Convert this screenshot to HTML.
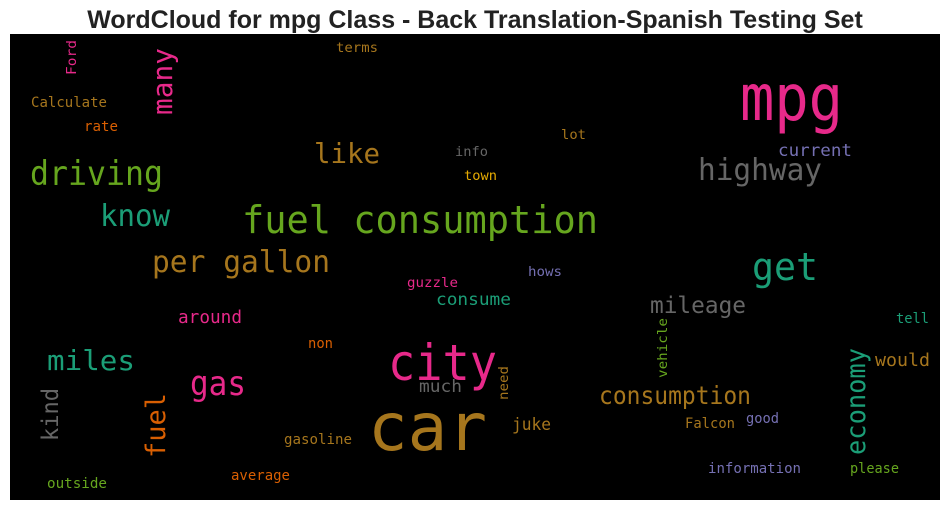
<!DOCTYPE html>
<html><head><meta charset="utf-8"><style>
html,body{margin:0;padding:0;background:#fff;}
svg{display:block;}
</style></head><body>
<svg width="950" height="511" viewBox="0 0 950 511" xmlns="http://www.w3.org/2000/svg">
<text x="475" y="28" text-anchor="middle" font-family="Liberation Sans, sans-serif" font-weight="bold" font-size="25" fill="#222">WordCloud for mpg Class - Back Translation-Spanish Testing Set</text>
<rect x="10" y="34" width="930" height="466" fill="#000"/>
<g id="words" font-family="DejaVu Sans Mono, Liberation Mono, monospace"></g>
<script>
const words = ["mpg","fuel consumption","city","car","highway","get","driving","know","like","per gallon","many","Ford","terms","Calculate","rate","info","lot","town","current","hows","guzzle","consume","mileage","around","tell","non","vehicle","miles","would","economy","need","much","gas","consumption","kind","fuel","juke","Falcon","good","gasoline","information","please","average","outside"];
const sizes = [64,38,50,66,30,38,34,30,28,30,28,13,13,14,14,13,13,13,17,13,13,17,23,18,14,14,13,28,18,27,13,17,34,25,23,27,17,14,14,14,14,14,14,14];
const colors = ["#e7298a","#66a61e","#e7298a","#a6761d","#666666","#1b9e77","#66a61e","#1b9e77","#a6761d","#a6761d","#e7298a","#e7298a","#a6761d","#a6761d","#d95f02","#666666","#a6761d","#e6ab02","#7570b3","#7570b3","#e7298a","#1b9e77","#666666","#e7298a","#1b9e77","#d95f02","#66a61e","#1b9e77","#a6761d","#1b9e77","#a6761d","#666666","#e7298a","#a6761d","#666666","#d95f02","#a6761d","#a6761d","#7570b3","#a6761d","#7570b3","#66a61e","#d95f02","#66a61e"];
const vertical = [0,0,0,0,0,0,0,0,0,0,1,1,0,0,0,0,0,0,0,0,0,0,0,0,0,0,1,0,0,1,1,0,0,0,1,1,0,0,0,0,0,0,0,0];
const anchorX = [740,242,388,368,698,752,30,100,314,152,172,76,336,31,84,455,561,464,778,528,407,436,650,178,896,308,667,47,875,865,508,419,190,599,58,165,512,685,746,284,708,850,231,47];
const anchorY = [120,233,380,450,180,280,185,226,163,272,115,75,52,107,131,156,139,180,156,276,287,305,313,323,323,348,378,370,366,455,400,392,395,404,441,458,430,428,423,444,473,473,480,488];
const extent = [103,356,109,119,124,66,133,70,66,178,67,35,42,76,34,33,25,33,74,34,51,75,96,64,33,25,60,88,55,107,34,43,56,152,53,65,39,50,33,68,93,49,59,60];
const g = document.getElementById('words');
const NS = "http://www.w3.org/2000/svg";
words.forEach((w, i) => {
  const t = document.createElementNS(NS, 'text');
  t.textContent = w;
  t.setAttribute('font-size', sizes[i]);
  t.setAttribute('fill', colors[i]);
  t.setAttribute('textLength', extent[i]);
  t.setAttribute('lengthAdjust', 'spacingAndGlyphs');
  if (vertical[i]) {
    t.setAttribute('transform', 'translate(' + anchorX[i] + ',' + anchorY[i] + ') rotate(-90)');
  } else {
    t.setAttribute('x', anchorX[i]);
    t.setAttribute('y', anchorY[i]);
  }
  
  
  g.appendChild(t);
});
</script>
</svg>
</body></html>
